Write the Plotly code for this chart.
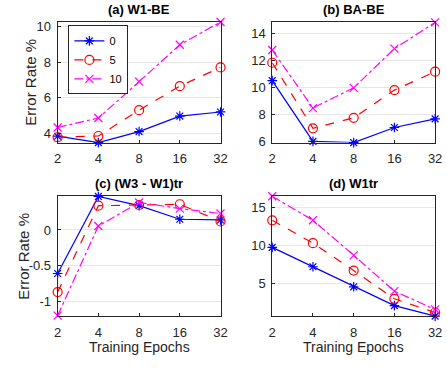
import plotly.graph_objects as go
import math

epochs = [2, 4, 8, 16, 32]
epoch_labels = ["2", "4", "8", "16", "32"]
series_names = ["0", "5", "10"]

a_vals = {
    "0": [3.84, 3.48, 4.1, 4.97, 5.2],
    "5": [3.78, 3.85, 5.3, 6.65, 7.7],
    "10": [4.33, 4.86, 6.9, 8.97, 10.25],
}
b_vals = {
    "0": [10.53, 6.03, 5.94, 7.06, 7.7],
    "5": [11.86, 7.0, 7.78, 9.83, 11.2],
    "10": [12.8, 8.5, 10.0, 12.9, 14.85],
}
c_vals = {
    "0": [-0.61, 0.47, 0.34, 0.15, 0.14],
    "5": [-0.87, 0.34, 0.35, 0.36, 0.12],
    "10": [-1.2, 0.055, 0.385, 0.3, 0.23],
}
d_vals = {
    "0": [9.75, 7.2, 4.57, 2.1, 0.72],
    "5": [13.3, 10.3, 6.7, 3.0, 1.2],
    "10": [16.45, 13.3, 8.7, 4.0, 1.6],
}

titles = ["(a) W1-BE", "(b) BA-BE", "(c) (W3 - W1)tr", "(d) W1tr"]
panels = [a_vals, b_vals, c_vals, d_vals]
yranges = [[3.48, 10.25], [5.94, 14.88], [-1.21, 0.474], [0.70, 16.47]]
ytickvals = [[4, 6, 8, 10], [6, 8, 10, 12, 14], [-1, -0.5, 0], [5, 10, 15]]
yticktext = [["4", "6", "8", "10"], ["6", "8", "10", "12", "14"], ["-1", "-0.5", "0"], ["5", "10", "15"]]

styles = {
    "0": dict(color="#0000FF", dash="solid", symbol="asterisk-open", size=8),
    "5": dict(color="#FF0000", dash="dash", symbol="circle-open", size=9),
    "10": dict(color="#FF00FF", dash="dashdot", symbol="x-thin-open", size=8),
}

W, H = 447, 370
FONT = "Liberation Sans, Arial, sans-serif"
AX = "#262626"

# pixel boxes (left, right, top, bottom)
boxes = [(55, 222, 19.5, 143.5), (275, 442, 19.5, 143.5),
         (55, 222, 198.5, 322), (275, 442, 198.5, 322)]
ylabel_x = [27, None, 20, None]

xlog = [math.log2(e) for e in epochs]

fig = go.Figure()
layout = {}
annotations = []
for i, (vals, box) in enumerate(zip(panels, boxes)):
    n = "" if i == 0 else str(i + 1)
    l, r, t, b = box
    xd = [l / W, r / W]
    yd = [1 - b / H, 1 - t / H]
    for s in series_names:
        st = styles[s]
        fig.add_trace(go.Scatter(
            x=xlog, y=vals[s], name=s, mode="lines+markers",
            line=dict(color=st["color"], dash=st["dash"], width=1.2),
            marker=dict(symbol=st["symbol"], size=st["size"],
                        color=st["color"], line=dict(color=st["color"], width=1.2)),
            xaxis="x" + n, yaxis="y" + n, showlegend=(i == 0), cliponaxis=False,
            hoverinfo="skip",
        ))
    layout["xaxis" + n] = dict(
        domain=xd, anchor="y" + n, range=[1, 5], tickvals=xlog, ticktext=epoch_labels,
        showgrid=False, zeroline=False, showline=True, mirror=True, linecolor=AX, linewidth=1,
        ticks="inside", ticklen=3, tickcolor=AX, tickfont=dict(size=13, color=AX, family=FONT),
        ticklabelstandoff=4, ticklabeloverflow="allow", fixedrange=True,
    )
    layout["yaxis" + n] = dict(
        domain=yd, anchor="x" + n, range=yranges[i], tickvals=ytickvals[i], ticktext=yticktext[i],
        showgrid=True, gridcolor="#E6E6E6", gridwidth=1, zeroline=False,
        showline=True, mirror=True, linecolor=AX, linewidth=1,
        ticks="inside", ticklen=3, tickcolor=AX, tickfont=dict(size=13, color=AX, family=FONT),
        ticklabelstandoff=3, fixedrange=True,
    )
    annotations.append(dict(
        text="<b>" + titles[i] + "</b>", x=(l + r) / 2 / W, y=1 - (t - 3) / H,
        xref="paper", yref="paper", xanchor="center", yanchor="bottom", showarrow=False,
        font=dict(size=13, color="#000000", family=FONT),
    ))
    if ylabel_x[i] is not None:
        annotations.append(dict(
            text="Error Rate %", x=ylabel_x[i] / W, y=1 - (t + b) / 2 / H, textangle=-90,
            xref="paper", yref="paper", xanchor="center", yanchor="middle", showarrow=False,
            font=dict(size=15, color=AX, family=FONT),
        ))
    if i >= 2:
        annotations.append(dict(
            text="Training Epochs", x=(l + r) / 2 / W, y=1 - 354 / H,
            xref="paper", yref="paper", xanchor="center", yanchor="middle", showarrow=False,
            font=dict(size=14, color=AX, family=FONT),
        ))

fig.update_layout(
    **layout,
    annotations=annotations,
    width=W, height=H, margin=dict(l=0, r=0, t=0, b=0),
    paper_bgcolor="white", plot_bgcolor="white",
    font=dict(family=FONT, color=AX),
    hovermode=False,
    legend=dict(x=66 / W, y=1 - 23 / H, xanchor="left", yanchor="top",
                bgcolor="white", bordercolor=AX, borderwidth=1,
                font=dict(size=11, family=FONT, color="#000000"),
                tracegroupgap=0, itemwidth=30),
)

fig.write_html("out.html", config={"displayModeBar": False},
               post_script="document.body.style.margin='0';document.body.style.overflow='hidden';")
